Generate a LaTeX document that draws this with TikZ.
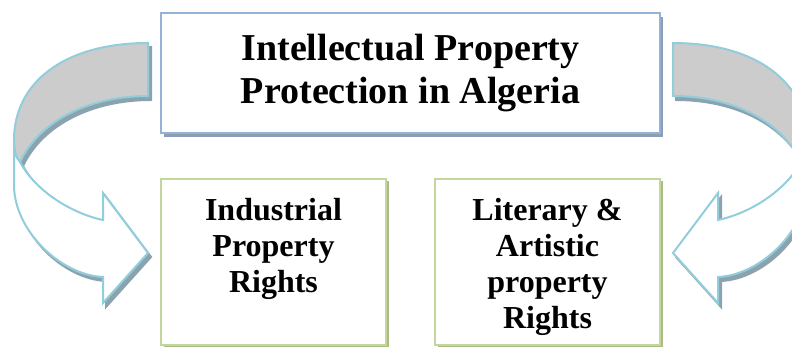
\documentclass[tikz,border=0pt]{standalone}
\usepackage{fontspec}
\setmainfont{Liberation Serif}
\usetikzlibrary{shadows}
\definecolor{topborder}{HTML}{95B3D7}
\definecolor{topshadow}{HTML}{8C9DB4}
\definecolor{greenborder}{HTML}{C3D69B}
\definecolor{greenshadow}{HTML}{A9BE84}
\definecolor{arrowline}{HTML}{92CDDC}
\definecolor{arrowgray}{HTML}{CCCCCC}
\definecolor{arrowshadow}{HTML}{8BA3AE}
\newcommand{\arrowbackpath}{(148,43) .. controls (65,43) and (14,82) .. (14,140) .. controls (14,152) and (16,158) .. (20,162) .. controls (40,120) and (90,96) .. (148,96) -- cycle}
\newcommand{\arrowfrontpath}{(14,140) -- (14,185) .. controls (14,230) and (60,275) .. (103,277) -- (103,303) -- (148,253) -- (103,193) -- (103,220) .. controls (70,213) and (35,190) .. (20,162) .. controls (16,158) and (14,152) .. (14,140) -- cycle}
\tikzset{
  titlebox/.style={draw=topborder, line width=2pt, fill=white, minimum width=499pt, minimum height=120pt, align=center, inner sep=0pt, font=\fontsize{38}{43}\selectfont\bfseries, drop shadow={shadow xshift=3pt, shadow yshift=-4pt, fill=topshadow, opacity=1}},
  greenbox/.style={draw=greenborder, line width=2pt, fill=white, minimum width=225pt, minimum height=166pt, inner sep=0pt, drop shadow={shadow xshift=2.5pt, shadow yshift=-2.5pt, fill=greenshadow, opacity=1}},
  boxtext/.style={align=center, inner sep=0pt, font=\fontsize{32}{36}\selectfont\bfseries, anchor=north},
  arrowedge/.style={draw=arrowline, line width=2pt, line join=miter},
  arrowback/.style={arrowedge, fill=arrowgray},
  arrowfront/.style={arrowedge, fill=white},
  arrowshade/.style={fill=arrowshadow, draw=arrowshadow, line width=2pt},
}
\begin{document}
\begin{tikzpicture}[x=1pt,y=-1pt]
\useasboundingbox (0,0) rectangle (792,347);
\clip (0,0) rectangle (792,347);
% left curved arrow
\begin{scope}[shift={(3,4)}]
  \path[arrowshade] \arrowbackpath;
  \path[arrowshade] \arrowfrontpath;
\end{scope}
\path[arrowback] \arrowbackpath;
\path[arrowfront] \arrowfrontpath;
% right curved arrow (mirror image)
\begin{scope}[shift={(824,4)}, xscale=-1]
  \path[arrowshade] \arrowbackpath;
  \path[arrowshade] \arrowfrontpath;
\end{scope}
\begin{scope}[shift={(821,0)}, xscale=-1]
  \path[arrowback] \arrowbackpath;
  \path[arrowfront] \arrowfrontpath;
\end{scope}
% boxes
\node[titlebox] (title) at (410.5,73) {Intellectual Property\\Protection in Algeria};
\node[greenbox] (industrial) at (273.5,262) {};
\node[greenbox] (literary) at (547.5,262) {};
\node[boxtext] (industrialtext) at (273.5,198) {Industrial\\Property\\Rights};
\node[boxtext] (literarytext) at (547.5,198) {Literary \&\\Artistic\\property\\Rights};
\end{tikzpicture}
\end{document}
